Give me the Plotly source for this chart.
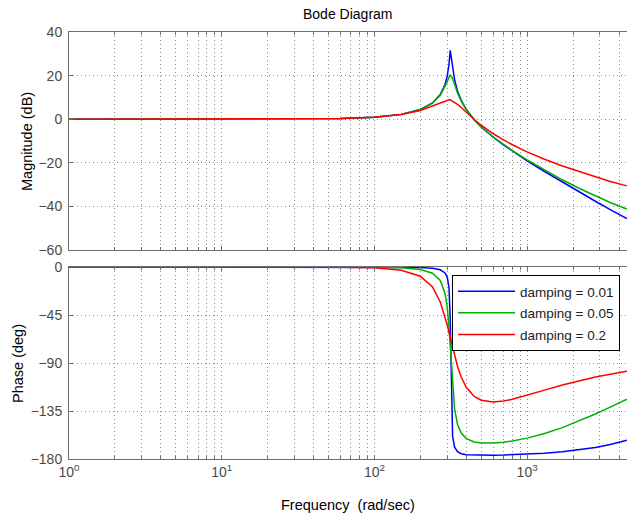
import plotly.graph_objects as go

# Frequency samples (rad/sec)
freq = [1, 10, 30, 60, 100, 150, 200, 240, 270, 290, 300, 308, 313.5, 325, 335,
        350, 370, 400, 450, 500, 600, 700, 800, 1000, 1300, 1700, 2200, 2800, 3500, 4500]

# Magnitude (dB)
mag_001 = [0, 0.01, 0.08, 0.32, 0.92, 2.21, 4.44, 7.45, 11.32, 15.91, 19.85, 25.21, 31.6, 24.46, 18.12,
           12.91, 8.64, 4.43, -0.22, -3.52, -8.30, -11.81, -14.64, -19.07, -24.0, -28.86, -33.43, -37.64, -41.48, -45.6]
mag_005 = [0, 0.01, 0.08, 0.32, 0.91, 2.21, 4.41, 7.34, 10.96, 14.76, 17.25, 19.3, 20.4, 18.67, 15.87,
           12.07, 8.30, 4.32, -0.21, -3.46, -8.17, -11.63, -14.39, -18.68, -23.35, -27.80, -31.80, -35.26, -38.22, -41.2]
mag_02 = [0, 0.01, 0.08, 0.32, 0.90, 2.11, 4.00, 6.04, 7.69, 8.51, 8.71, 8.9, 8.9, 8.32, 7.83,
          6.86, 5.36, 3.09, -0.16, -2.77, -6.68, -9.53, -11.74, -15.02, -18.39, -21.44, -24.11, -26.46, -28.56, -30.6]

# Phase (deg)
ph_001 = [0, 0, 0, -0.01, -0.04, -0.16, -0.48, -1.18, -2.63, -5.53, -9.65, -19.67, -48.08, -158.73, -168.96,
          -173.11, -175.03, -176.0, -176.3, -176.5, -176.5, -176.3, -176.0, -175.5, -174.6, -173.2, -171.4, -169.2, -166.5, -162.5]
ph_005 = [0, 0, -0.01, -0.04, -0.20, -0.79, -2.40, -5.81, -12.61, -24.74, -38.07, -56.66, -74.55, -112.80, -133.05,
          -147.48, -155.74, -160.89, -164.00, -165.0, -165.09, -164.27, -163.12, -160.44, -156.17, -150.63, -144.33, -137.82, -131.4, -124.0]
ph_02 = [0, 0, -0.02, -0.16, -0.79, -3.01, -8.67, -18.71, -32.72, -46.43, -54.46, -61.21, -65.90, -75.43, -83.13,
         -93.06, -103.18, -113.02, -121.31, -124.83, -126.53, -125.69, -124.05, -120.33, -115.41, -110.53, -106.41, -103.15, -100.64, -97.8]

labels = ["damping = 0.01", "damping = 0.05", "damping = 0.2"]
colors = ["#0000ff", "#00b000", "#ff0000"]

# decade ticks and minor log grid positions
major_vals = [1, 10, 100, 1000]
major_text = ["10<sup>0</sup>", "10<sup>1</sup>", "10<sup>2</sup>", "10<sup>3</sup>"]
minor_vals = []
for dec in major_vals:
    for m in range(2, 10):
        if dec * m <= 4500:
            minor_vals.append(dec * m)

FONT = "Liberation Sans, Arial, sans-serif"
fig = go.Figure()

for m, ph, lab, c in zip([mag_001, mag_005, mag_02], [ph_001, ph_005, ph_02], labels, colors):
    fig.add_trace(go.Scatter(x=freq, y=m, mode="lines", line=dict(color=c, width=1.5),
                             name=lab, showlegend=False, xaxis="x", yaxis="y"))
    fig.add_trace(go.Scatter(x=freq, y=ph, mode="lines", line=dict(color=c, width=1.5),
                             name=lab, legendgroup=lab, showlegend=True, xaxis="x2", yaxis="y2"))

axcol = "#6e6e6e"
gridcol = "#8c8c8c"
common_x = dict(type="log", range=[0, 3.654], tickvals=major_vals, ticktext=major_text,
                ticks="inside", ticklen=4,
                tickcolor=axcol, showline=True, linecolor=axcol, linewidth=1, mirror="ticks",
                showgrid=True, gridcolor=gridcol, griddash="1px,3px", gridwidth=1, zeroline=False,
                minor=dict(tickvals=minor_vals, ticks="inside", ticklen=3, tickcolor=axcol,
                           showgrid=True, gridcolor=gridcol, griddash="1px,3px", gridwidth=1),
                tickfont=dict(family=FONT, size=14, color="#4a4a4a"))
common_y = dict(ticks="inside", ticklen=4, tickcolor=axcol, showline=True, linecolor=axcol,
                linewidth=1, mirror=False, showgrid=True, gridcolor=gridcol, griddash="1px,3px",
                gridwidth=1, zeroline=False, tickfont=dict(family=FONT, size=14, color="#4a4a4a"),
                ticklabelstandoff=3)

fig.update_layout(
    width=627, height=517,
    margin=dict(l=69, r=0, t=32, b=58, autoexpand=False),
    paper_bgcolor="white", plot_bgcolor="white",
    showlegend=True,
    xaxis=dict(common_x, anchor="y", domain=[0, 1], showticklabels=False),
    xaxis2=dict(common_x, anchor="y2", domain=[0, 1], matches="x"),
    yaxis=dict(common_y, anchor="x", domain=[0.4895, 1], range=[-60, 40], tickvals=[-60, -40, -20, 0, 20, 40]),
    yaxis2=dict(common_y, anchor="x2", domain=[0, 0.4496], range=[-180, 0],
                tickvals=[-180, -135, -90, -45, 0]),
    legend=dict(x=0.6864, y=0.4309, xanchor="left", yanchor="top", bgcolor="white",
                bordercolor="black", borderwidth=1, font=dict(family=FONT, size=13.5, color="#222"),
                itemwidth=57, traceorder="grouped", tracegroupgap=1),
    annotations=[
        dict(text="Bode Diagram", xref="paper", yref="paper", x=0.5, y=1.042,
             xanchor="center", yanchor="middle", showarrow=False,
             font=dict(family=FONT, size=14, color="black")),
        dict(text="Frequency\u00a0 (rad/sec)", xref="paper", yref="paper", x=0.5, y=-0.1077,
             xanchor="center", yanchor="middle", showarrow=False,
             font=dict(family=FONT, size=14.5, color="black")),
        dict(text="Magnitude (dB)", xref="paper", yref="paper", x=-0.0753, y=0.7447,
             xanchor="center", yanchor="middle", showarrow=False, textangle=-90,
             font=dict(family=FONT, size=14.5, color="black")),
        dict(text="Phase (deg)", xref="paper", yref="paper", x=-0.0914, y=0.2248,
             xanchor="center", yanchor="middle", showarrow=False, textangle=-90,
             font=dict(family=FONT, size=14.5, color="black")),
    ],
)

fig.write_html("out.html", config={"displayModeBar": False},
               post_script="document.body.style.margin='0px';")
